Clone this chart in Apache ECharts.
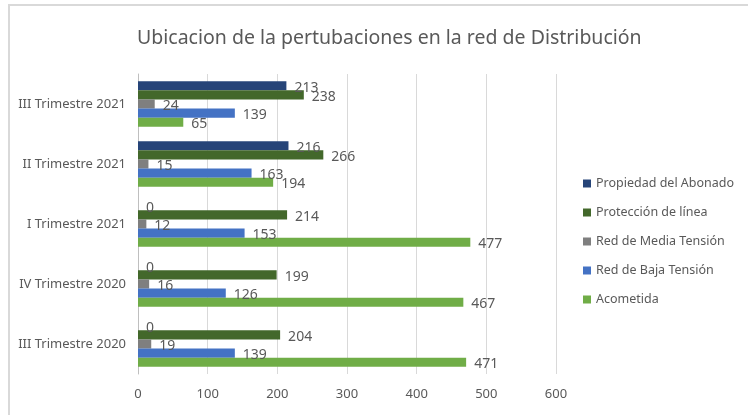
<!DOCTYPE html>
<html lang="es">
<head>
    <meta charset="utf-8"/>
    <title>Ubicacion de la pertubaciones</title>
    <script src="https://cdn.jsdelivr.net/npm/echarts@6/dist/echarts.min.js"></script>
    <style>
        body { margin: 0; background: #fff; }
        #frame { position: absolute; left: 8px; top: 4px; width: 740px; height: 411px;
                 border-top: 2px solid #d9d9d9; border-left: 2px solid #d9d9d9; }
        #chart { position: absolute; left: 0; top: 0; width: 748px; height: 415px; }
    </style>
</head>
<body>
<div id="frame"></div>
<div id="chart"></div>
<script type="text/javascript">
    // bottom to top, as the category axis draws them
    const trimestres = ['III Trimestre 2020', 'IV Trimestre 2020', 'I Trimestre 2021', 'II Trimestre 2021', 'III Trimestre 2021'];

    const propiedad = [0, 0, 0, 216, 213];
    const proteccion = [204, 199, 214, 266, 238];
    const mediaTension = [19, 16, 12, 15, 24];
    const bajaTension = [139, 126, 153, 163, 139];
    const acometida = [471, 467, 477, 194, 65];

    const xTicks = {min: 0, max: 600, interval: 100};

    const textColor = '#595959';
    const font = 'Noto Sans';

    function barSerie(name, data, color) {
        return {
            name: name,
            type: 'bar',
            data: data,
            barGap: '0%',
            barCategoryGap: '24%',
            itemStyle: {color: color},
            label: {
                show: true,
                position: 'right',
                distance: 8,
                offset: [0, 2],
                color: textColor,
                fontFamily: font,
                fontSize: 14
            }
        };
    }

    let chart = echarts.init(document.getElementById('chart'));
    chart.setOption({
        animation: false,
        title: {
            text: 'Ubicacion de la pertubaciones en la red de Distribución',
            left: 132,
            top: 23,
            textStyle: {color: textColor, fontFamily: font, fontSize: 19.5, fontWeight: 'normal'}
        },
        legend: {
            orient: 'vertical',
            left: 578,
            top: 172,
            itemGap: 16,
            itemWidth: 8,
            itemHeight: 8,
            icon: 'rect',
            textStyle: {color: textColor, fontFamily: font, fontSize: 12.5},
            data: ['Propiedad del Abonado', 'Protección de línea', 'Red de Media Tensión', 'Red de Baja Tensión', 'Acometida']
        },
        grid: {left: 138, right: 192, top: 74, bottom: 41, containLabel: false},
        xAxis: {
            type: 'value',
            min: xTicks.min,
            max: xTicks.max,
            interval: xTicks.interval,
            axisLine: {show: false},
            axisTick: {show: false},
            axisLabel: {color: textColor, fontFamily: font, fontSize: 13, margin: 14},
            splitLine: {lineStyle: {color: '#d9d9d9'}}
        },
        yAxis: {
            type: 'category',
            data: trimestres,
            axisLine: {lineStyle: {color: '#bfbfbf'}},
            axisTick: {show: false},
            axisLabel: {color: textColor, fontFamily: font, fontSize: 13, margin: 12}
        },
        series: [
            barSerie('Propiedad del Abonado', propiedad, '#264478'),
            barSerie('Protección de línea', proteccion, '#43682b'),
            barSerie('Red de Media Tensión', mediaTension, '#7f7f7f'),
            barSerie('Red de Baja Tensión', bajaTension, '#4472c4'),
            barSerie('Acometida', acometida, '#70ad47')
        ]
    });
</script>
</body>
</html>
